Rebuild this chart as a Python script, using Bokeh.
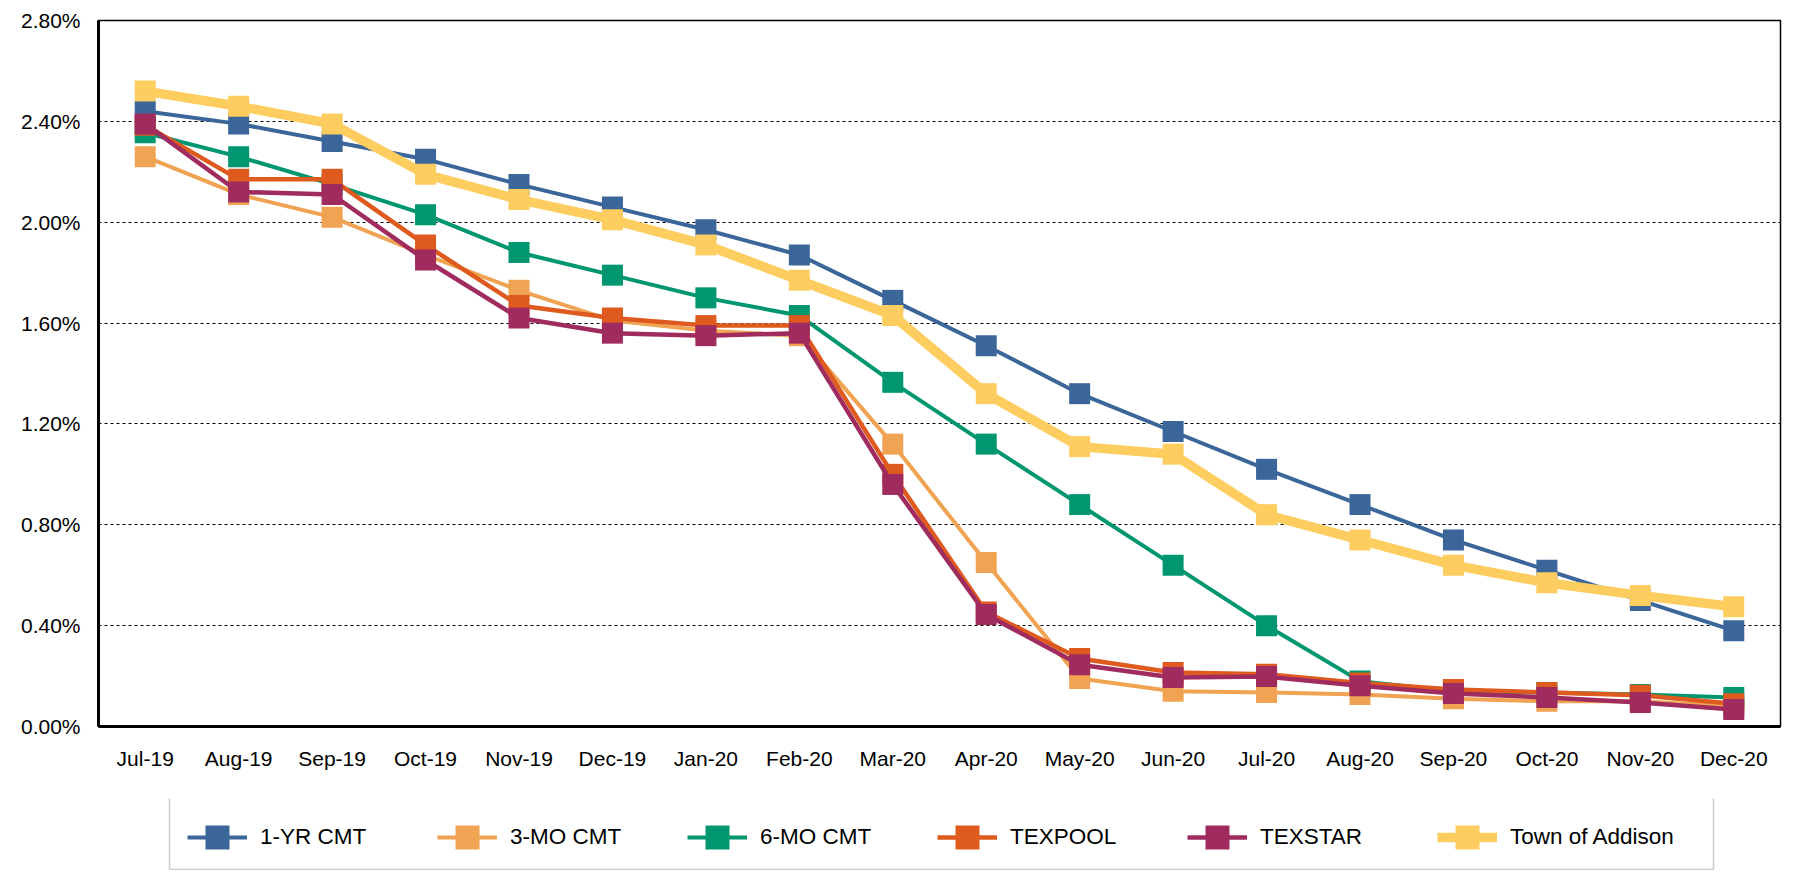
from bokeh.plotting import figure
from bokeh.layouts import column
from bokeh.models import Legend, LegendItem, PrintfTickFormatter, FixedTicker, Range1d, FactorRange, BoxAnnotation
from bokeh.embed import file_html
from bokeh.resources import INLINE

months = ["Jul-19", "Aug-19", "Sep-19", "Oct-19", "Nov-19", "Dec-19", "Jan-20", "Feb-20", "Mar-20",
          "Apr-20", "May-20", "Jun-20", "Jul-20", "Aug-20", "Sep-20", "Oct-20", "Nov-20", "Dec-20"]

cmt_1yr = [2.44, 2.39, 2.32, 2.25, 2.15, 2.06, 1.97, 1.87, 1.69, 1.51, 1.32, 1.17, 1.02, 0.88, 0.74, 0.62, 0.50, 0.38]
cmt_3mo = [2.26, 2.11, 2.02, 1.87, 1.73, 1.61, 1.57, 1.55, 1.12, 0.65, 0.19, 0.14, 0.135, 0.127, 0.11, 0.10, 0.10, 0.08]
cmt_6mo = [2.355, 2.26, 2.15, 2.03, 1.88, 1.79, 1.70, 1.63, 1.365, 1.12, 0.88, 0.64, 0.40, 0.18, 0.14, 0.135, 0.127, 0.115]
texpool = [2.385, 2.17, 2.17, 1.91, 1.67, 1.62, 1.59, 1.59, 1.00, 0.454, 0.27, 0.214, 0.207, 0.173, 0.147, 0.135, 0.124, 0.09]
texstar = [2.39, 2.12, 2.11, 1.85, 1.62, 1.56, 1.55, 1.56, 0.96, 0.444, 0.245, 0.194, 0.198, 0.162, 0.131, 0.115, 0.095, 0.067]
addison = [2.52, 2.46, 2.39, 2.19, 2.09, 2.01, 1.91, 1.77, 1.63, 1.32, 1.11, 1.08, 0.84, 0.74, 0.64, 0.57, 0.52, 0.475]

series_names = ["1-YR CMT", "3-MO CMT", "6-MO CMT", "TEXPOOL", "TEXSTAR", "Town of Addison"]
series_values = [cmt_1yr, cmt_3mo, cmt_6mo, texpool, texstar, addison]
series_colors = ["#3A6699", "#F0A352", "#009670", "#DE5A1F", "#A02B5F", "#FDCD5F"]
series_widths = [4, 4, 4, 4.5, 4.5, 9.5]

y_ticks = [0.0, 0.4, 0.8, 1.2, 1.6, 2.0, 2.4, 2.8]

FONT = "Liberation Sans"
W = 1790

p = figure(x_range=FactorRange(*months), y_range=Range1d(0, 2.8),
           width=W, height=798, output_backend="svg", toolbar_location=None,
           min_border_left=98, min_border_right=W - 1780, min_border_top=20, min_border_bottom=72)

p.background_fill_color = "white"
p.border_fill_color = "white"
p.outline_line_color = "black"
p.outline_line_width = 1.5

p.xgrid.grid_line_color = None
p.ygrid.ticker = FixedTicker(ticks=y_ticks)
p.ygrid.grid_line_color = "black"
p.ygrid.grid_line_dash = "3 3"
p.ygrid.grid_line_width = 1.2

p.yaxis.ticker = FixedTicker(ticks=y_ticks)
p.yaxis.formatter = PrintfTickFormatter(format="%.2f%%")
for ax in (p.xaxis[0], p.yaxis[0]):
    ax.axis_line_color = "black"
    ax.axis_line_width = 3
    ax.major_tick_line_color = None
    ax.minor_tick_line_color = None
    ax.major_tick_out = 0
    ax.major_tick_in = 0
    ax.major_label_text_font = FONT
    ax.major_label_text_font_size = "21px"
    ax.major_label_text_color = "black"
p.yaxis.major_label_standoff = 18
p.xaxis.major_label_standoff = 20

for vals, col, lw in zip(series_values, series_colors, series_widths):
    p.line(months, vals, line_color=col, line_width=lw)
    p.scatter(months, vals, marker="square", size=21, fill_color=col, line_color=None)

# legend strip (its glyphs drawn outside the visible range, only the legend shows)
q = figure(x_range=FactorRange(*months), y_range=Range1d(100, 101),
           width=W, height=72, output_backend="svg", toolbar_location=None,
           min_border_left=0, min_border_right=0, min_border_top=0, min_border_bottom=0)
q.axis.visible = False
q.grid.visible = False
q.outline_line_color = None
q.background_fill_color = "white"
q.border_fill_color = "white"

items = []
for name, vals, col, lw in zip(series_names, series_values, series_colors, series_widths):
    ln = q.line(months, vals, line_color=col, line_width=lw)
    sc = q.scatter(months, vals, marker="square", size=21, fill_color=col, line_color=None)
    items.append(LegendItem(label=name, renderers=[ln, sc]))

legend = Legend(items=items, orientation="horizontal", location=(89, 2),
                glyph_width=60, glyph_height=62, label_standoff=13, label_width=177,
                spacing=0, padding=8, margin=0,
                label_text_font=FONT, label_text_font_size="22.5px", label_text_color="black",
                border_line_color=None, background_fill_alpha=0.0)
q.add_layout(legend, "center")

# legend frame: left/right/top borders (bottom edge falls outside the picture, as in the original)
frame_box = BoxAnnotation(left=71, right=1615, top=1, bottom=200,
                          left_units="screen", right_units="screen", top_units="screen", bottom_units="screen",
                          fill_alpha=0, line_color="#555555", line_width=1.5)
q.add_layout(frame_box)

layout = column(p, q, spacing=0)
open("out.html", "w").write(file_html(layout, INLINE))
